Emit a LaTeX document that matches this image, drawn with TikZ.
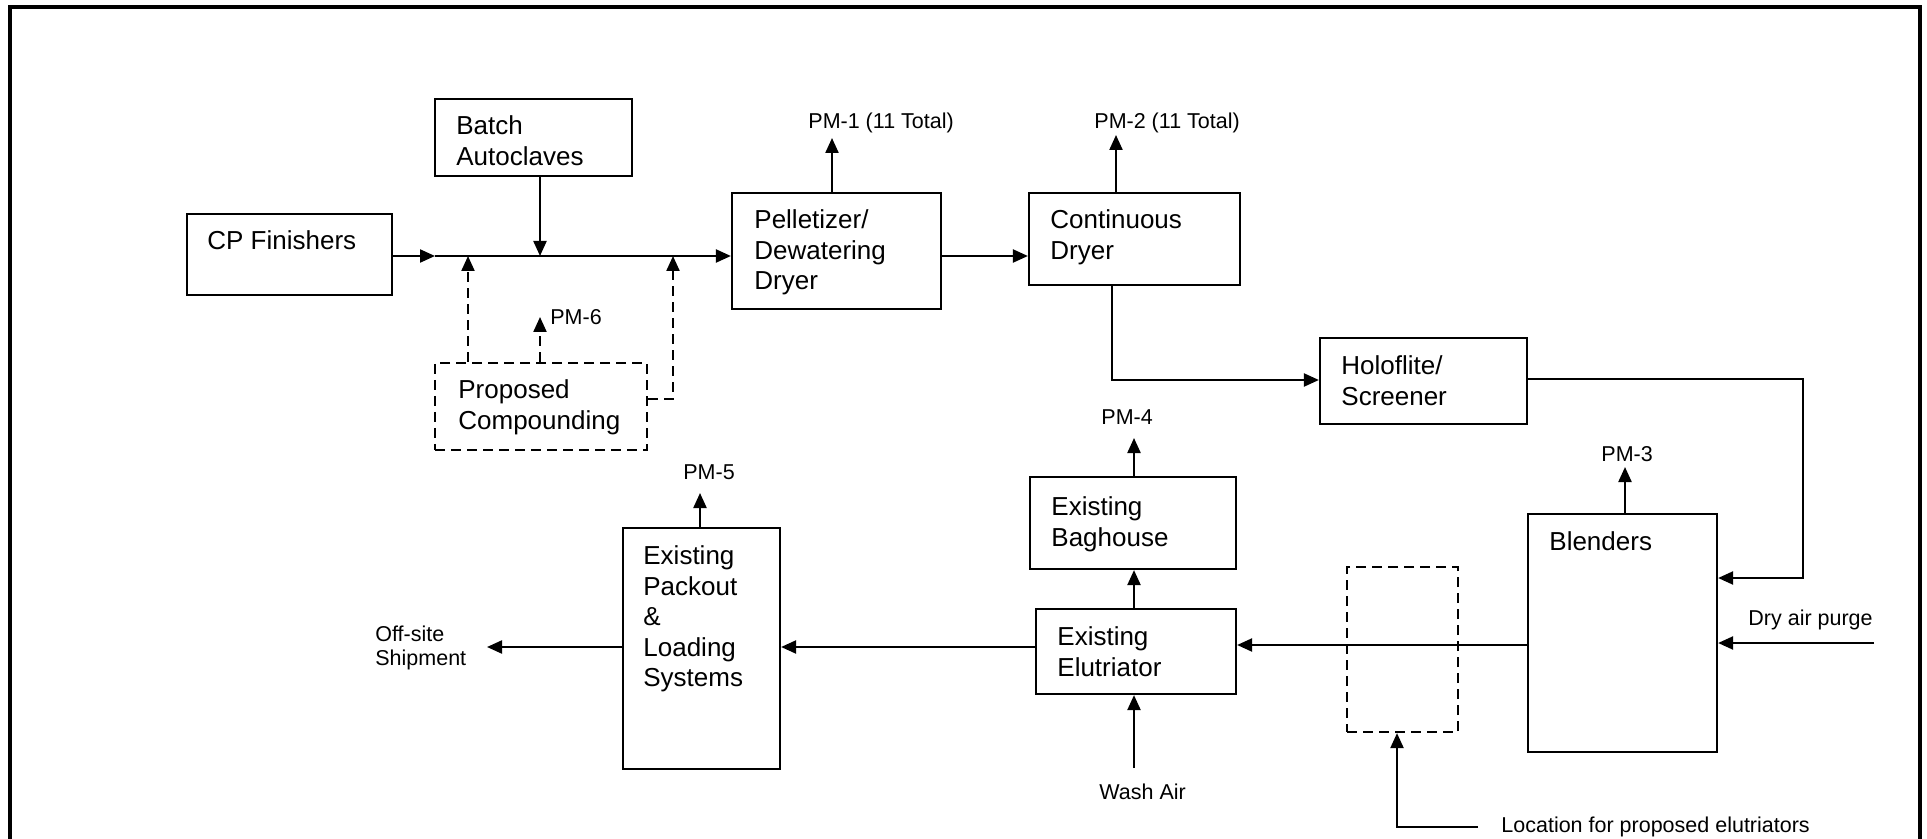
\documentclass[tikz,border=0pt]{standalone}
\usepackage{fontspec}
\setmainfont{Liberation Sans}
\usetikzlibrary{arrows.meta,fit}
\begin{document}
\begin{tikzpicture}[x=0.5pt,y=-0.5pt,
  box/.style={draw, line width=1.1pt, inner sep=0pt},
  pbox/.style={box, dash pattern=on 5pt off 3pt},
  btext/.style={anchor=north west, inner sep=0pt, align=left,
    font=\fontsize{13pt}{15.25pt}\selectfont},
  lbl/.style={anchor=base west, inner sep=0pt,
    font=\fontsize{10.75pt}{12pt}\selectfont},
  stext/.style={anchor=north west, inner sep=0pt, align=left,
    font=\fontsize{10.75pt}{12pt}\selectfont},
  flow/.style={line width=1.1pt, -{Triangle[length=7.5pt,width=6.5pt]}},
  dflow/.style={flow, dash pattern=on 5pt off 3pt},
]
\useasboundingbox (0,0) rectangle (1927,839);

% page frame (open at the bottom)
\draw[line width=1.6pt] (10,839) -- (10,7) -- (1920,7) -- (1920,839);

% process units
\node[box,  fit={(187,214) (392,295)}]   (cp)   {};
\node[box,  fit={(435,99) (632,176)}]    (bat)  {};
\node[pbox, fit={(435,363) (647,450)}]   (prop) {};
\node[box,  fit={(732,193) (941,309)}]   (pel)  {};
\node[box,  fit={(1029,193) (1240,285)}] (con)  {};
\node[box,  fit={(1320,338) (1527,424)}] (holo) {};
\node[box,  fit={(1528,514) (1717,752)}] (bl)   {};
\node[pbox, fit={(1347,567) (1458,732)}] (pel2) {};
\node[box,  fit={(1030,477) (1236,569)}] (bag)  {};
\node[box,  fit={(1036,609) (1236,694)}] (elu)  {};
\node[box,  fit={(623,528) (780,769)}]   (pack) {};

% unit names
\node[btext] (cpT)   at (207,230.4)  {CP Finishers};
\node[btext] (batT)  at (456,115.4)  {Batch\\Autoclaves};
\node[btext] (propT) at (458,379.4)  {Proposed\\Compounding};
\node[btext] (pelT)  at (754,209.4)  {Pelletizer/\\Dewatering\\Dryer};
\node[btext] (conT)  at (1050,209.4) {Continuous\\Dryer};
\node[btext] (holoT) at (1341,355.4) {Holoflite/\\Screener};
\node[btext] (blT)   at (1549,531.4) {Blenders};
\node[btext] (bagT)  at (1051,496.4) {Existing\\Baghouse};
\node[btext] (eluT)  at (1057,626.4) {Existing\\Elutriator};
\node[btext] (packT) at (643,545.4)  {Existing\\Packout\\\&\\Loading\\Systems};

% stream and emission point labels
\node[lbl] (pm1L) at (808,129)  {PM-1 (11 Total)};
\node[lbl] (pm2L) at (1094,129) {PM-2 (11 Total)};
\node[lbl] (pm6L) at (550,325)  {PM-6};
\node[lbl] (pm4L) at (1101,425) {PM-4};
\node[lbl] (pm3L) at (1601,461) {PM-3};
\node[lbl] (pm5L) at (683,480)  {PM-5};
\node[lbl] (dryL) at (1748,625) {Dry air purge};
\node[lbl] (washL) at (1099,799) {Wash Air};
\node[lbl] (locL) at (1501,832) {Location for proposed elutriators};
\node[stext] (offL) at (375,625.6) {Off-site\\Shipment};

% junctions and free ends
\coordinate (j0)  at (435,256);
\coordinate (jb)  at (540,256);
\coordinate (jp1) at (468,256);
\coordinate (jp2) at (673,256);
\coordinate (k)   at (673,399);
\coordinate (pm6) at (540,317);
\coordinate (pm1) at (832,138);
\coordinate (pm2) at (1116,135);
\coordinate (c1)  at (1112,380);
\coordinate (h1)  at (1803,379);
\coordinate (h2)  at (1803,578);
\coordinate (dap) at (1874,643);
\coordinate (ey)  at (1300,645);
\coordinate (py)  at (900,647);
\coordinate (off) at (487,647);
\coordinate (bx)  at (1134,600);
\coordinate (pm4) at (1134,438);
\coordinate (wa)  at (1134,768);
\coordinate (pm5) at (700,493);
\coordinate (pm3) at (1625,467);
\coordinate (loc) at (1478,827);
\coordinate (lc)  at (1397,827);

% feed line
\draw[flow] (cp.east |- j0) -- (j0);
\draw[flow] (j0) -- (pel.west |- j0);
\draw[flow] (bat.south -| jb) -- (jb);
\draw[dflow] (prop.north -| jp1) -- (jp1);
\draw[dflow] (prop.north -| pm6) -- (pm6);
\draw[dflow] (prop.east |- k) -- (k) -- (jp2);

% main process train
\draw[flow] (pel.east |- j0) -- (con.west |- j0);
\draw[flow] (pel.north -| pm1) -- (pm1);
\draw[flow] (con.north -| pm2) -- (pm2);
\draw[flow] (con.south -| c1) -- (c1) -- (holo.west |- c1);
\draw[flow] (holo.east |- h1) -- (h1) -- (h2) -- (bl.east |- h2);
\draw[flow] (dap) -- (bl.east |- dap);
\draw[flow] (bl.north -| pm3) -- (pm3);
\draw[flow] (bl.west |- ey) -- (elu.east |- ey);
\draw[flow] (elu.north -| bx) -- (bag.south -| bx);
\draw[flow] (bag.north -| pm4) -- (pm4);
\draw[flow] (wa) -- (elu.south -| wa);
\draw[flow] (elu.west |- py) -- (pack.east |- py);
\draw[flow] (pack.north -| pm5) -- (pm5);
\draw[flow] (pack.west |- off) -- (off);
\draw[flow] (loc) -- (lc) -- (pel2.south -| lc);
\end{tikzpicture}
\end{document}
